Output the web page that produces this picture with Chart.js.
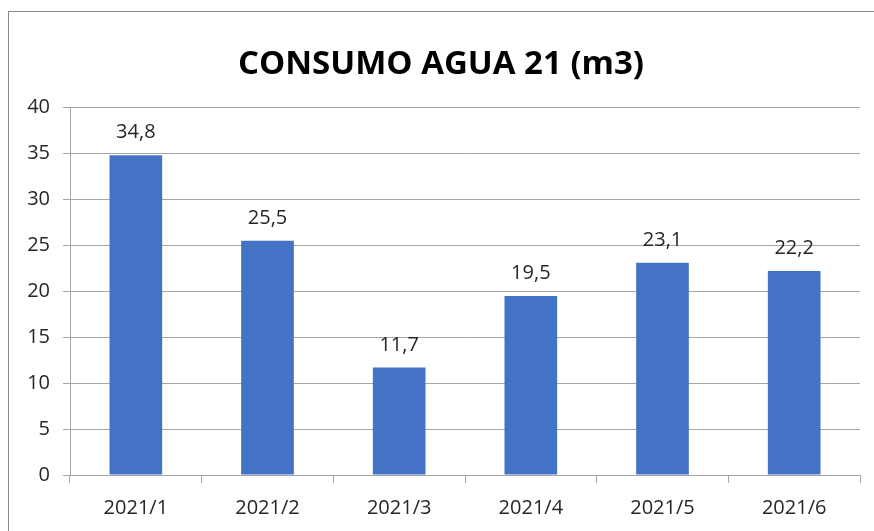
<!DOCTYPE html>
<html>
<head>
<meta charset="utf-8">
<script src="https://cdn.jsdelivr.net/npm/chart.js@4/dist/chart.umd.min.js"></script>
<style>
  html, body { margin: 0; padding: 0; background: #fff; }
  #wrap { position: relative; width: 874px; height: 531px; overflow: hidden; }
  #frame { position: absolute; left: 8px; top: 11px; width: 900px; height: 600px; border: 1px solid #8a8a8a; box-sizing: border-box; }
  canvas { position: absolute; left: 0; top: 0; }
</style>
</head>
<body>
<div id="wrap">
  <div id="frame"></div>
  <canvas id="c" width="874" height="531"></canvas>
</div>
<script>
const titleText = "CONSUMO AGUA 21 (m3)";
const categories = ["2021/1", "2021/2", "2021/3", "2021/4", "2021/5", "2021/6"];
const consumo = [34.8, 25.5, 11.7, 19.5, 23.1, 22.2];
const yTicks = [0, 5, 10, 15, 20, 25, 30, 35, 40];

const fontFam = "'Open Sans', 'Liberation Sans', sans-serif";

const labelPlugin = {
  id: 'valueLabels',
  afterDatasetsDraw(chart) {
    const ctx = chart.ctx;
    const meta = chart.getDatasetMeta(0);
    ctx.save();
    ctx.font = "20px " + fontFam;
    ctx.fillStyle = "#262626";
    ctx.textAlign = "center";
    ctx.textBaseline = "alphabetic";
    meta.data.forEach((bar, i) => {
      const v = chart.data.datasets[0].data[i];
      ctx.fillText(v.toFixed(1).replace('.', ','), bar.x, bar.y - 17);
    });
    ctx.restore();
  }
};

new Chart(document.getElementById('c'), {
  type: 'bar',
  data: {
    labels: categories,
    datasets: [{
      data: consumo,
      backgroundColor: '#4472C4',
      borderWidth: 0,
      barPercentage: 0.4,
      categoryPercentage: 1.0
    }]
  },
  options: {
    responsive: false,
    animation: false,
    devicePixelRatio: 1,
    layout: { padding: { left: 22, right: 14, top: 0, bottom: 0 } },
    plugins: {
      legend: { display: false },
      tooltip: { enabled: false },
      title: {
        display: true,
        text: titleText,
        color: '#000000',
        font: { family: fontFam, size: 33, weight: 'bold' },
        padding: { top: 45, bottom: 23 }
      }
    },
    scales: {
      x: {
        grid: { display: true, drawOnChartArea: false, color: '#a6a6a6', tickLength: 8, offset: true },
        border: { display: true, color: '#a6a6a6' },
        ticks: { color: '#262626', font: { family: fontFam, size: 20 }, padding: 13, maxRotation: 0 },
        afterFit(scale) { scale.height = 56; }
      },
      y: {
        min: 0, max: 40,
        afterBuildTicks(scale) { scale.ticks = yTicks.map(v => ({ value: v })); },
        grid: { color: '#a6a6a6', tickLength: 7 },
        border: { display: true, color: '#a6a6a6' },
        ticks: { color: '#262626', font: { family: fontFam, size: 20 }, padding: 13 },
        afterFit(scale) { scale.width = 48; }
      }
    }
  },
  plugins: [labelPlugin]
});
</script>
</body>
</html>
